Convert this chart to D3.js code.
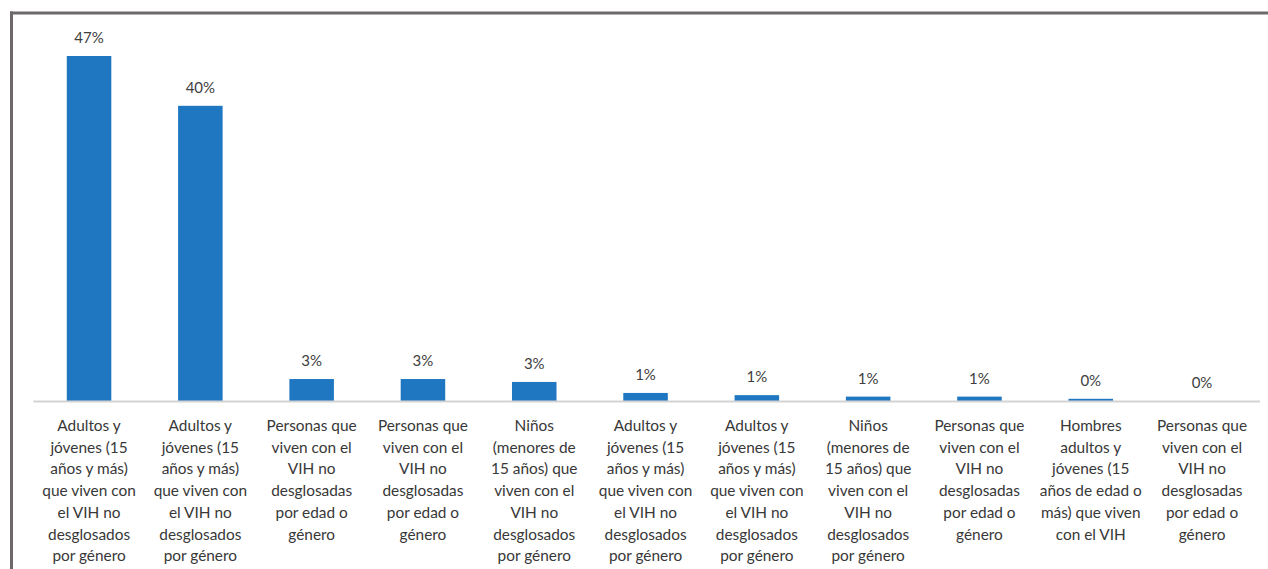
<!DOCTYPE html>
<html>
<head>
<meta charset="utf-8">
<script src="https://cdn.jsdelivr.net/npm/d3@7"></script>
<style>
  html, body { margin: 0; padding: 0; background: #fff; }
  svg { display: block; }
  .cat { font-family: Lato, "Open Sans", sans-serif; font-size: 15.4px; fill: #383838; }
  .val { font-family: Lato, "Open Sans", sans-serif; font-size: 15px; fill: #404040; }
</style>
</head>
<body>
<svg id="chart" width="1268" height="569"></svg>
<script>
// Category labels, pre-wrapped line by line
const categories = [
  "Adultos y\njóvenes (15\naños y más)\nque viven con\nel VIH no\ndesglosados\npor género",
  "Adultos y\njóvenes (15\naños y más)\nque viven con\nel VIH no\ndesglosados\npor género",
  "Personas que\nviven con el\nVIH no\ndesglosadas\npor edad o\ngénero",
  "Personas que\nviven con el\nVIH no\ndesglosadas\npor edad o\ngénero",
  "Niños\n(menores de\n15 años) que\nviven con el\nVIH no\ndesglosados\npor género",
  "Adultos y\njóvenes (15\naños y más)\nque viven con\nel VIH no\ndesglosados\npor género",
  "Adultos y\njóvenes (15\naños y más)\nque viven con\nel VIH no\ndesglosados\npor género",
  "Niños\n(menores de\n15 años) que\nviven con el\nVIH no\ndesglosados\npor género",
  "Personas que\nviven con el\nVIH no\ndesglosadas\npor edad o\ngénero",
  "Hombres\nadultos y\njóvenes (15\naños de edad o\nmás) que viven\ncon el VIH",
  "Personas que\nviven con el\nVIH no\ndesglosadas\npor edad o\ngénero"
];

// Share of each group (fraction)
const values = [0.471, 0.403, 0.030, 0.030, 0.026, 0.011, 0.008, 0.006, 0.006, 0.003, 0.0];

const svg = d3.select("#chart");
const W = 1268, H = 569;

const baseY = 401;
const x = d3.scaleBand()
  .domain(d3.range(categories.length))
  .range([33.4, 33.4 + 11 * 111.3])
  .paddingInner(0.6)
  .paddingOuter(0.3);

const y = d3.scaleLinear()
  .domain([0, 0.471])
  .range([baseY, 56]);

const fmt = d3.format(".0%");

// Frame
svg.append("line")
  .attr("x1", 10).attr("x2", W).attr("y1", 13).attr("y2", 13)
  .attr("stroke", "#6d6869").attr("stroke-width", 3);
svg.append("line")
  .attr("x1", 11.5).attr("x2", 11.5).attr("y1", 11.5).attr("y2", H)
  .attr("stroke", "#6d6869").attr("stroke-width", 3);

// Bars
svg.append("g").selectAll("rect")
  .data(values)
  .join("rect")
  .attr("x", (d, i) => x(i))
  .attr("width", x.bandwidth())
  .attr("y", d => y(d))
  .attr("height", d => baseY - y(d))
  .attr("fill", "#1f77c2");

// Baseline axis
const axis = svg.append("g")
  .attr("transform", `translate(0,${baseY})`)
  .call(d3.axisBottom(x).tickSize(0).tickFormat(""));
axis.select(".domain").attr("stroke", "#d3d3d3").attr("stroke-width", 2)
  .attr("d", "M33.4,0.5H1260");

// Value labels
svg.append("g").selectAll("text")
  .data(values)
  .join("text")
  .attr("class", "val")
  .attr("x", (d, i) => x(i) + x.bandwidth() / 2)
  .attr("y", d => y(d) - 13)
  .attr("text-anchor", "middle")
  .text(d => fmt(d));

// Category labels
const lab = svg.append("g").selectAll("text")
  .data(categories)
  .join("text")
  .attr("class", "cat")
  .attr("text-anchor", "middle")
  .attr("x", (d, i) => x(i) + x.bandwidth() / 2)
  .attr("y", 431);
lab.selectAll("tspan")
  .data(d => d.split("\n"))
  .join("tspan")
  .attr("x", function () { return this.parentNode.getAttribute("x"); })
  .attr("dy", (d, i) => i === 0 ? 0 : 21.7)
  .text(d => d);
</script>
</body>
</html>
